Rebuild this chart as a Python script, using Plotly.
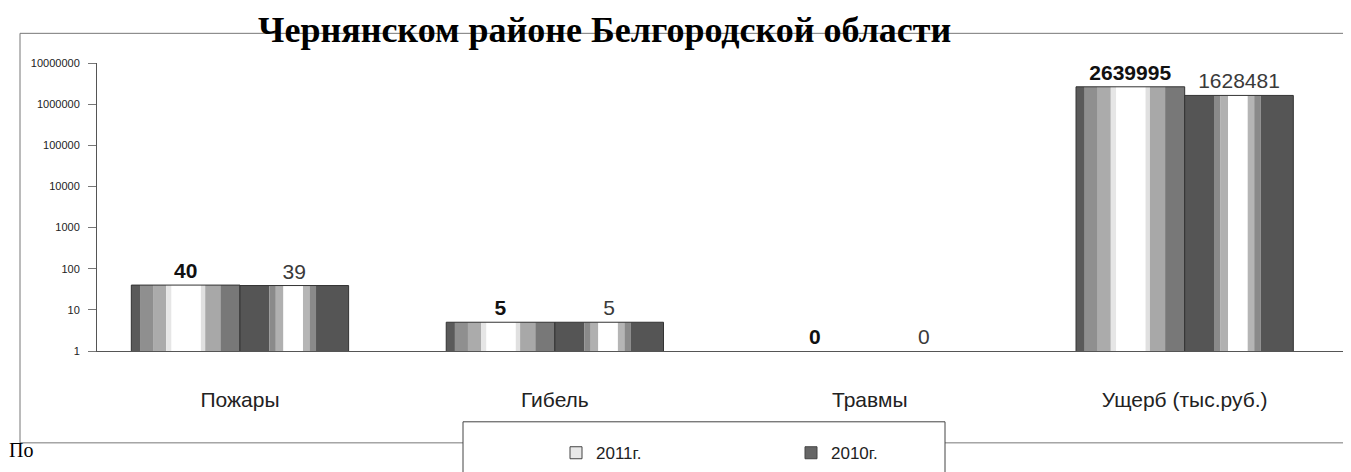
import plotly.graph_objects as go

# ---- data ----
categories = ["Пожары", "Гибель", "Травмы", "Ущерб (тыс.руб.)"]
series_names = ["2011г.", "2010г."]
values_2011 = [40, 5, 0, 2639995]
values_2010 = [39, 5, 0, 1628481]
tick_values = [1, 10, 100, 1000, 10000, 100000, 1000000, 10000000]
tick_labels = ["1", "10", "100", "1000", "10000", "100000", "1000000", "10000000"]
title_text = "Чернянском районе Белгородской области"
page_fragment = "По"

# ---- geometry helpers (pixels -> paper) ----
W, H = 1351, 472
L, R, T, B = 89, 1342, 55, 356


def px_x(p):
    return (p - L) / (R - L)


def px_y(p):
    return (B - p) / (B - T)


X_RANGE = [-0.454, 3.525]
PX_PER_CAT = (R - L) / (X_RANGE[1] - X_RANGE[0])
BAR_W = 0.345  # bar width in category units

# horizontal "cylinder" shading of the bars (start, end, colour)
shade_2011 = [(0.00, 0.08, "#5a5a5a"), (0.08, 0.20, "#8f8f8f"), (0.20, 0.32, "#ababab"),
              (0.32, 0.37, "#e6e6e6"), (0.37, 0.64, "#ffffff"), (0.64, 0.68, "#e0e0e0"),
              (0.68, 0.82, "#a8a8a8"), (0.82, 1.00, "#787878")]
shade_2010 = [(0.00, 0.27, "#555555"), (0.27, 0.33, "#8a8a8a"), (0.33, 0.40, "#b0b0b0"),
              (0.40, 0.58, "#ffffff"), (0.58, 0.64, "#b5b5b5"), (0.64, 0.70, "#8a8a8a"),
              (0.70, 1.00, "#555555")]

series = [
    (series_names[0], values_2011, shade_2011, -BAR_W,
     dict(family="Arial", size=21, color="#111111", weight="bold"), "#e8e8e8"),
    (series_names[1], values_2010, shade_2010, 0.0,
     dict(family="Arial", size=21, color="#3a3a3a", weight="normal"), "#666666"),
]

fig = go.Figure()
annotations = []

for name, vals, shade, off, tfont, legcol in series:
    yv = [v if v > 0 else None for v in vals]
    for s, e, col in shade:
        fig.add_trace(go.Bar(
            x=categories, y=yv, width=BAR_W * (e - s), offset=off + BAR_W * s,
            marker=dict(color=col, line=dict(width=0)),
            showlegend=False, hoverinfo="skip"))
    # outline + value labels
    fig.add_trace(go.Bar(
        x=categories, y=yv, width=BAR_W, offset=off,
        marker=dict(color="rgba(0,0,0,0)", line=dict(color="#333333", width=1)),
        text=[str(v) for v in vals], textposition="outside", textfont=tfont,
        cliponaxis=False, showlegend=False, name=name))
    # legend entry
    fig.add_trace(go.Bar(
        x=categories, y=[None] * len(categories), name=name,
        marker=dict(color=legcol, line=dict(color="#444444", width=1))))
    # zero values cannot be drawn on a log axis: label them at the base
    for c, v in zip(categories, vals):
        if v == 0:
            annotations.append(dict(
                x=c, y=0, xref="x", yref="y", text=str(v), showarrow=False,
                xshift=(off + BAR_W / 2) * PX_PER_CAT, yanchor="bottom", yshift=1,
                font=tfont))

annotations.append(dict(
    x=px_x(596), y=1.0, xref="paper", yref="paper", yshift=T - 1, text=title_text,
    showarrow=False, xanchor="center", yanchor="top", borderpad=0,
    font=dict(family="Liberation Serif", size=36, color="#000000", weight="bold")))
annotations.append(dict(
    x=px_x(0), y=px_y(472), xref="paper", yref="paper", text=page_fragment,
    showarrow=False, xanchor="left", yanchor="bottom", borderpad=0,
    font=dict(family="Liberation Serif", size=20, color="#000000")))

shapes = [
    dict(type="rect", xref="paper", yref="paper",
         x0=px_x(12), x1=px_x(1349), y0=px_y(452), y1=px_y(24),
         line=dict(color="#777777", width=1), fillcolor="rgba(0,0,0,0)", layer="below"),
    dict(type="rect", xref="paper", yref="paper",
         x0=px_x(455), x1=px_x(937), y0=px_y(490), y1=px_y(430),
         line=dict(color="#444444", width=1), fillcolor="#ffffff", layer="below"),
]

fig.update_layout(
    width=W, height=H, autosize=False,
    margin=dict(l=L, r=W - R, t=T, b=H - B, pad=0),
    barmode="overlay",
    paper_bgcolor="#ffffff", plot_bgcolor="rgba(0,0,0,0)",
    font=dict(family="Arial", color="#222222"),
    annotations=annotations, shapes=shapes,
    legend=dict(orientation="h", x=px_x(548), y=px_y(444), xanchor="left", yanchor="top",
                bgcolor="rgba(0,0,0,0)", borderwidth=0,
                font=dict(family="Arial", size=17, color="#222222"),
                entrywidth=190, entrywidthmode="pixels"),
    xaxis=dict(type="category", range=X_RANGE, showline=True, linecolor="#555555",
               linewidth=1, ticks="", showgrid=False, zeroline=False,
               tickfont=dict(family="Arial", size=21, color="#222222"),
               ticklabelstandoff=30),
    yaxis=dict(type="log", range=[0, 7], tickvals=tick_values, ticktext=tick_labels,
               ticks="outside", ticklen=8, tickcolor="#777777", showline=True,
               linecolor="#555555", linewidth=1, showgrid=False, zeroline=False,
               ticklabelstandoff=6,
               tickfont=dict(family="Arial", size=11, color="#222222")),
)

fig.write_html("out.html")
